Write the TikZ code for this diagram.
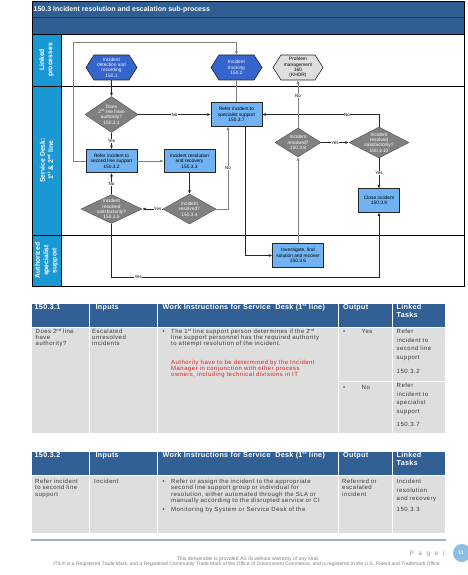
\documentclass[tikz,border=0pt]{standalone}
\usepackage{fontspec}
\setmainfont{Liberation Sans}
\newfontfamily\bodyfont[LetterSpace=8]{Liberation Sans}
\newfontfamily\hdrfont[LetterSpace=4]{Liberation Sans}
\usetikzlibrary{arrows.meta,shapes.geometric,calc}
\definecolor{titleblue}{RGB}{46,94,146}
\definecolor{laneblue}{RGB}{26,152,212}
\definecolor{hexblue}{RGB}{52,100,204}
\definecolor{boxblue}{RGB}{112,178,242}
\definecolor{diagray}{RGB}{128,128,128}
\definecolor{hexgray}{RGB}{222,222,222}
\definecolor{cellgray}{RGB}{222,222,222}
\definecolor{hdrblue}{RGB}{50,96,148}
\definecolor{redtext}{RGB}{225,30,30}
\definecolor{bodytext}{RGB}{55,55,55}
\definecolor{footline}{RGB}{160,175,196}
\definecolor{pagecirc}{RGB}{140,190,224}
\newcommand\supb[1]{\raisebox{2.3pt}{\fontsize{3.8}{4}\selectfont #1}}
\newcommand\suph[1]{\raisebox{2.8pt}{\fontsize{4.4}{5}\selectfont #1}}
\newcommand\supd[1]{\raisebox{1.7pt}{\fontsize{3.1}{3.5}\selectfont #1}}
\newcommand\supl[1]{\raisebox{2.6pt}{\fontsize{4.3}{5}\selectfont\bfseries #1}}
\begin{document}
\begin{tikzpicture}[x=1pt,y=-1pt,
  flow/.style={-{Latex[length=3.4pt,width=3pt]}, draw=black!85, line width=0.6pt},
  gflow/.style={-{Latex[length=3.4pt,width=3pt]}, draw=black!50, line width=1pt},
  plainline/.style={draw=black!50, line width=1pt},
  nodetext/.style={align=center, font=\fontsize{4.8}{5.4}\selectfont},
  procbox/.style={rectangle, draw=black!85, fill=boxblue, line width=0.6pt, minimum width=51pt, minimum height=23.5pt, inner sep=0pt, nodetext, text=black},
  decision/.style={diamond, draw=black!65, fill=diagray, line width=0.5pt, inner sep=0pt},
  dtext/.style={nodetext, text=white, inner sep=0pt},
  hexlbl/.style={inner sep=0pt, minimum width=51pt, minimum height=25pt, nodetext},
  hexshape/.style={draw=black!85, line width=0.6pt},
  lbl/.style={fill=white, inner sep=0.4pt, font=\fontsize{4.5}{5}\selectfont, text=black},
  lanelbl/.style={rotate=90, align=center, text=white, font=\bfseries\fontsize{6.8}{8.3}\selectfont, inner sep=0pt},
  cellhdr/.style={fill=hdrblue, draw=white, line width=0.8pt},
  cellbody/.style={fill=cellgray, draw=white, line width=0.8pt},
  hdr/.style={anchor=base west, inner sep=0pt, text=white, font=\hdrfont\bfseries\fontsize{7.2}{8.5}\selectfont, text width=#1, align=left},
  hdr/.default=80pt,
  body/.style={anchor=base west, inner sep=0pt, text=bodytext, font=\bodyfont\fontsize{6}{5.95}\selectfont, text width=#1, align=left},
  body/.default=60pt,
  bodyb/.style={anchor=base west, inner sep=0pt, text=bodytext, font=\bodyfont\fontsize{6}{6.2}\selectfont, text width=#1, align=left},
  bodyb/.default=60pt,
  linked/.style={anchor=base west, inner sep=0pt, text=bodytext, font=\bodyfont\fontsize{6}{8.6}\selectfont, text width=52pt, align=left},
  bul/.style={anchor=base west, inner sep=0pt, text=bodytext, font=\bodyfont\fontsize{6}{6}\selectfont}
]
\useasboundingbox (0,0) rectangle (468,575);
\fill[white] (0,0) rectangle (468,575);

% ---------- diagram frame ----------
\fill[titleblue] (32,1) rectangle (464,34);
\fill[laneblue] (32,34) rectangle (61,286.5);
\draw[black!80, line width=0.6pt] (32,17.8) -- (464,17.8);
\draw[black, line width=0.8pt] (32,34) -- (464,34);
\draw[black, line width=0.8pt] (32,86) -- (464,86);
\draw[black, line width=0.8pt] (32,235) -- (464,235);
\draw[black, line width=0.8pt] (61,34) -- (61,286.5);
\draw[black, line width=0.9pt] (32,1) rectangle (464,286.5);

\node[anchor=west, text=white, font=\bfseries\fontsize{7}{8}\selectfont, inner sep=0pt] (title) at (33.5,9.6) {150.3 Incident resolution and escalation sub-process};

\node[lanelbl] (lane1) at (46.5,60) {Linked\\processes};
\node[lanelbl] (lane2) at (46.5,160.5) {Service Desk:\\1\supl{st} \& 2\supl{nd} line};
\node[lanelbl] (lane3) at (46.5,260.5) {Authorized\\specialist\\support};

% ---------- hexagons ----------
\filldraw[hexshape, fill=hexblue] (86,67.5) -- (94,55) -- (129,55) -- (137,67.5) -- (129,80) -- (94,80) -- cycle;
\filldraw[hexshape, fill=hexblue] (211,67.5) -- (219,55) -- (254,55) -- (262,67.5) -- (254,80) -- (219,80) -- cycle;
\filldraw[hexshape, fill=hexgray] (273,67.5) -- (281,55) -- (315,55) -- (323,67.5) -- (315,80) -- (281,80) -- cycle;
\node[hexlbl, text=white] (h1) at (111.5,67.5) {Incident\\detection and\\recording\\150.1};
\node[hexlbl, text=white] (h2) at (236.5,67.5) {Incident\\tracking\\150.2};
\node[hexlbl, text=black] (h3) at (298,67.5) {Problem\\management\\160\\(KHOR)};

% ---------- process boxes ----------
\node[procbox] (b2) at (111.5,161) {Refer incident to\\second line support\\150.3.2};
\node[procbox] (b3) at (189.5,161) {Incident resolution\\and recovery\\150.3.3};
\node[procbox] (b7) at (236.5,114.5) {Refer incident to\\specialist support\\150.3.7};
\node[procbox, minimum width=41pt] (b9) at (379,200.5) {Close incident\\150.3.9};
\node[procbox] (b6) at (298,255.5) {Investigate, find\\solution and recover\\150.3.6};

% ---------- decisions ----------
\node[decision, minimum width=53pt, minimum height=36pt,
  label={[dtext]center:{Does\\2\supd{nd} line have\\authority?\\150.3.1}}] (d1) at (111.5,114.5) {};
\node[decision, minimum width=46pt, minimum height=29pt,
  label={[dtext]center:{Incident\\resolved?\\150.3.8}}] (d8) at (298,142.5) {};
\node[decision, minimum width=60pt, minimum height=31pt,
  label={[dtext]center:{Incident\\resolved\\satisfactorily?\\150.3.10}}] (d10) at (379,142.5) {};
\node[decision, minimum width=53pt, minimum height=30pt,
  label={[dtext]center:{Incident\\resolved?\\150.3.4}}] (d4) at (189.5,209) {};
\node[decision, minimum width=61pt, minimum height=29pt,
  label={[dtext]center:{Incident\\resolved\\satisfactorily?\\150.3.5}}] (d5) at (111.5,209) {};

\coordinate (loop) at (73,43);
\coordinate (c5) at (111.5,277);

% ---------- connectors ----------
\draw[flow] (h1) -- (d1);
\draw[flow] (d1) -- node[lbl]{No} (b7);
\draw[flow] (d1) -- node[lbl]{Yes} (b2);
\draw[gflow] (b2) -- (b3);
\draw[flow] (b3) -- (d4);
\draw[flow] (d4) -- node[lbl, pos=0.25]{Yes} (d5);
\draw[flow] (d5) -- node[lbl]{No} (b2);
\draw[flow] (d5) -- (c5) -- node[lbl, pos=0.1]{Yes} (c5 -| b9) -- (b9);
\draw[gflow] (d4.east) -| node[lbl, pos=0.75]{No} ([xshift=-8.5pt]b7.south);
\draw[flow] ([xshift=8.5pt]b7.south) |- (b6.west);
\draw[gflow] (b6) -- (d8);
\draw[flow] (d8) -- node[lbl]{Yes} (d10);
\draw[flow] (d10.north) |- node[lbl, pos=0.637]{No} (b7.east);
\draw[flow] (d10) -- node[lbl]{Yes} (b9);
\draw[gflow] (d8) -- node[lbl, pos=0.667]{No} (h3);
\draw[gflow] (b2.west) -| (loop) -| (h2.north);
\draw[plainline] (b7) -- (h2);

% ---------- table 1 ----------
\foreach \a/\b in {31/89,89/157,157/338,338/392,392/445}
  \filldraw[cellhdr] (\a,303) rectangle (\b,327);
\foreach \a/\b in {31/89,89/157,157/338}
  \filldraw[cellbody] (\a,327) rectangle (\b,433);
\foreach \a/\b in {338/392,392/445} {
  \filldraw[cellbody] (\a,327) rectangle (\b,381.5);
  \filldraw[cellbody] (\a,381.5) rectangle (\b,433);
}
\node[hdr] (t1h1) at (34.5,309.4) {150.3.1};
\node[hdr] (t1h2) at (95.5,309.4) {Inputs};
\node[hdr=175pt] (t1h3) at (162.5,309.4) {Work Instructions for Service\ \ Desk (1\suph{st} line)};
\node[hdr] (t1h4) at (343,309.4) {Output};
\node[hdr=50pt] (t1h5) at (396.5,309.4) {Linked\\Tasks};

\node[body] (t1c1) at (35.5,333.7) {Does 2\supb{nd} line\\have\\authority?};
\node[body] (t1c2) at (92,333.7) {Escalated\\unresolved\\incidents};
\node[bul] (t1b1) at (162.5,333.7) {•};
\node[body=175pt] (t1c3) at (171,333.7) {The 1\supb{st} line support person determines if the 2\supb{nd}\\line support personnel has the required authority\\to attempt resolution of the incident.};
\node[body=175pt, text=redtext] (t1red) at (171,364.7) {Authority have to be determined by the Incident\\Manager in conjunction with other process\\owners, including technical divisions in IT};
\node[bul] (t1b2) at (343,333.7) {•};
\node[bul] (t1yes) at (361.5,333.7) {Yes};
\node[linked] (t1l1) at (396.5,333.7) {Refer\\incident to\\second line\\support};
\node[linked] (t1l1n) at (396.5,373.7) {150.3.2};
\node[bul] (t1b3) at (343,389.2) {•};
\node[bul] (t1no) at (361.5,389.2) {No};
\node[linked] (t1l2) at (396.5,387.7) {Refer\\incident to\\specialist\\support};
\node[linked] (t1l2n) at (396.5,426.4) {150.3.7};

% ---------- table 2 ----------
\foreach \a/\b in {31/89,89/157,157/338,338/392,392/445} {
  \filldraw[cellhdr] (\a,451) rectangle (\b,475);
  \filldraw[cellbody] (\a,475) rectangle (\b,533);
}
\node[hdr] (t2h1) at (34.5,457.4) {150.3.2};
\node[hdr] (t2h2) at (95.5,457.4) {Inputs};
\node[hdr=175pt] (t2h3) at (162.5,457.4) {Work Instructions for Service\ \ Desk (1\suph{st} line)};
\node[hdr] (t2h4) at (343,457.4) {Output};
\node[hdr=50pt] (t2h5) at (396.5,457.4) {Linked\\Tasks};

\node[bodyb] (t2c1) at (35,483.7) {Refer incident\\to second line\\support};
\node[bodyb] (t2c2) at (94,483.7) {Incident};
\node[bul] (t2b1) at (162.5,483.7) {•};
\node[bodyb=175pt] (t2c3) at (171,483.7) {Refer or assign the incident to the appropriate\\second line support group or individual for\\resolution, either automated through the SLA or\\manually according to the disrupted service or CI};
\node[bul] (t2b2) at (162.5,511.7) {•};
\node[bodyb=175pt] (t2c3b) at (171,511.7) {Monitoring by System or Service Desk of the};
\node[bodyb=50pt] (t2c4) at (342,483.7) {Referred or\\escalated\\incident};
\node[linked] (t2l1) at (396.5,483.7) {Incident\\resolution\\and recovery};
\node[linked] (t2l1n) at (396.5,511.7) {150.3.3};

% ---------- footer ----------
\draw[footline, line width=1.6pt] (31,540) -- (446,540);
\node[anchor=base east, inner sep=0pt, text=black!40, font=\fontsize{6.5}{7}\selectfont] (pg) at (445,555.5) {P\hspace{4.6pt}a\hspace{4.6pt}g\hspace{4.6pt}e\hspace{4.6pt}|};
\fill[pagecirc] (462,553) circle (9);
\node[inner sep=0pt, text=white, font=\bfseries\fontsize{5}{6}\selectfont] (pnum) at (461,553) {11};
\node[inner sep=0pt, text=black!50, font=\fontsize{5.1}{6}\selectfont] (f1) at (248,559) {This deliverable is provided AS IS without warranty of any kind.};
\node[inner sep=0pt, text=black!50, font=\fontsize{5}{6}\selectfont] (f2) at (246.5,564.5) {ITIL® is a Registered Trade Mark, and a Registered Community Trade Mark of the Office of Government Commerce, and is registered in the U.S. Patent and Trademark Office};
\end{tikzpicture}
\end{document}
